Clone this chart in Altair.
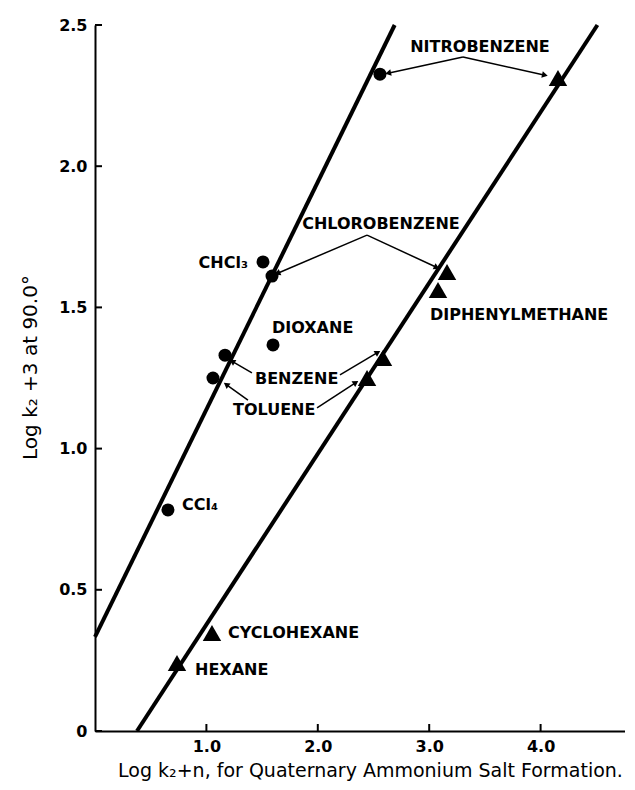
import math
import altair as alt
import pandas as pd

# ---------------- data ----------------
circle_names = ["Nitrobenzene", "CHCl3", "Chlorobenzene", "Dioxane", "Benzene", "Toluene", "CCl4"]
circle_x = [2.558, 1.508, 1.589, 1.598, 1.167, 1.059, 0.655]
circle_y = [2.326, 1.661, 1.611, 1.367, 1.331, 1.250, 0.783]

tri_names = ["Nitrobenzene", "Chlorobenzene", "Diphenylmethane", "Benzene", "Toluene", "Cyclohexane", "Hexane"]
tri_x = [4.156, 3.160, 3.079, 2.585, 2.442, 1.050, 0.736]
tri_y = [2.312, 1.625, 1.562, 1.321, 1.250, 0.347, 0.241]

line_ids = ["left", "left", "right", "right"]
line_x = [0.0, 2.69, 0.377, 4.51]
line_y = [0.333, 2.5, 0.0, 2.5]

label_text = ["NITROBENZENE", "CHLOROBENZENE", "CHCl₃", "DIOXANE", "BENZENE",
              "TOLUENE", "CCl₄", "CYCLOHEXANE", "HEXANE", "DIPHENYLMETHANE"]
label_x = [3.456, 2.567, 1.373, 1.589, 1.436, 1.239, 0.781, 1.194, 0.898, 3.007]
label_y = [2.422, 1.795, 1.657, 1.427, 1.246, 1.137, 0.800, 0.347, 0.216, 1.473]
label_align = ["center", "center", "right", "left", "left",
               "left", "left", "left", "left", "left"]

arrow_x1 = [3.303, 3.303, 2.442, 2.442, 1.409, 2.199, 1.373, 1.993]
arrow_y1 = [2.387, 2.387, 1.756, 1.756, 1.268, 1.261, 1.172, 1.144]
arrow_x2 = [2.640, 4.030, 1.645, 3.060, 1.239, 2.531, 1.185, 2.334]
arrow_y2 = [2.330, 2.323, 1.622, 1.643, 1.307, 1.339, 1.225, 1.232]

y_ticks = [0, 0.5, 1.0, 1.5, 2.0, 2.5]
x_ticks = [1, 2, 3, 4]

# ---------------- layout ----------------
W, H = 530, 706
XMAX = W / 111.4
YMAX = 2.5
FONT = "DejaVu Sans"

xscale = alt.Scale(domain=[0, XMAX], nice=False, zero=False)
yscale = alt.Scale(domain=[0, YMAX], nice=False, zero=False)

xaxis = alt.Axis(values=x_ticks, labelExpr="format(datum.value, '.1f')",
                 ticks=False, tickSize=0, labelPadding=7, grid=False,
                 domainColor="black", domainWidth=2,
                 labelFont=FONT, labelFontWeight="bold", labelFontSize=16, labelColor="black",
                 title="Log k₂+n, for Quaternary Ammonium Salt Formation.",
                 titleFont=FONT, titleFontWeight="normal", titleFontSize=19, titleColor="black",
                 titleX=275, titleY=39, titleAlign="center", titleBaseline="middle")
yaxis = alt.Axis(values=y_ticks,
                 labelExpr="datum.value == 0 ? '0' : format(datum.value, '.1f')",
                 ticks=False, tickSize=0, labelPadding=8, grid=False,
                 domainColor="black", domainWidth=2,
                 labelFont=FONT, labelFontWeight="bold", labelFontSize=16, labelColor="black",
                 title="Log k₂ +3 at 90.0°",
                 titleFont=FONT, titleFontWeight="normal", titleFontSize=20, titleColor="black",
                 titleX=-65, titleY=342, titleAngle=270, titleAlign="center", titleBaseline="middle")


def X(f="x"):
    return alt.X(f"{f}:Q", scale=xscale, axis=xaxis)


def Y(f="y"):
    return alt.Y(f"{f}:Q", scale=yscale, axis=yaxis)


circles = pd.DataFrame({"name": circle_names, "x": circle_x, "y": circle_y})
tris = pd.DataFrame({"name": tri_names, "x": tri_x, "y": tri_y})
lines = pd.DataFrame({"id": line_ids, "x": line_x, "y": line_y})
labels = pd.DataFrame({"t": label_text, "x": label_x, "y": label_y, "a": label_align})

sx, sy = W / XMAX, H / YMAX
angles = []
for x1, y1, x2, y2 in zip(arrow_x1, arrow_y1, arrow_x2, arrow_y2):
    dx = (x2 - x1) * sx
    dy = -(y2 - y1) * sy
    angles.append(math.degrees(math.atan2(dx, -dy)) % 360)
arrows = pd.DataFrame({"x": arrow_x1, "y": arrow_y1, "x2": arrow_x2, "y2": arrow_y2})
heads = pd.DataFrame({"x": arrow_x2, "y": arrow_y2, "angle": angles})

fit_lines = alt.Chart(lines).mark_line(color="black", strokeWidth=4).encode(
    x=X(), y=Y(), detail="id:N")

circ = alt.Chart(circles).mark_point(shape="circle", filled=True, size=169,
                                     color="black", opacity=1).encode(x=X(), y=Y())
tri = alt.Chart(tris).mark_point(shape="triangle-up", filled=True, size=340,
                                 color="black", opacity=1).encode(x=X(), y=Y())

arrow_lines = alt.Chart(arrows).mark_rule(color="black", strokeWidth=1.5).encode(
    x=X(), y=Y(), x2="x2:Q", y2="y2:Q")
arrow_heads = alt.Chart(heads).mark_point(shape="triangle", filled=True, size=45,
                                          color="black", opacity=1).encode(
    x=X(), y=Y(), angle=alt.Angle("angle:Q", scale=None))

text_layers = []
for al in ["left", "center", "right"]:
    sub = labels[labels["a"] == al]
    text_layers.append(
        alt.Chart(sub).mark_text(align=al, baseline="middle", font=FONT,
                                 fontWeight="bold", fontSize=16, color="black").encode(
            x=X(), y=Y(), text="t:N"))

ytick_df = pd.DataFrame({"y": y_ticks})
xtick_df = pd.DataFrame({"x": x_ticks})
yticks = alt.Chart(ytick_df).mark_rule(color="black", strokeWidth=2).encode(
    y=Y(), x=alt.value(0), x2=alt.value(7))
xticks = alt.Chart(xtick_df).mark_rule(color="black", strokeWidth=2).encode(
    x=X(), y=alt.value(H), y2=alt.value(H - 7))

chart = alt.layer(
    fit_lines, arrow_lines, arrow_heads, circ, tri, *text_layers, yticks, xticks
).properties(
    width=W, height=H,
    autosize=alt.AutoSizeParams(type="none"),
    padding={"left": 87, "top": 17, "right": 0, "bottom": 51},
    background="white",
).configure_view(stroke=None)

chart.save("out.html", embed_options={"renderer": "svg", "actions": False})
